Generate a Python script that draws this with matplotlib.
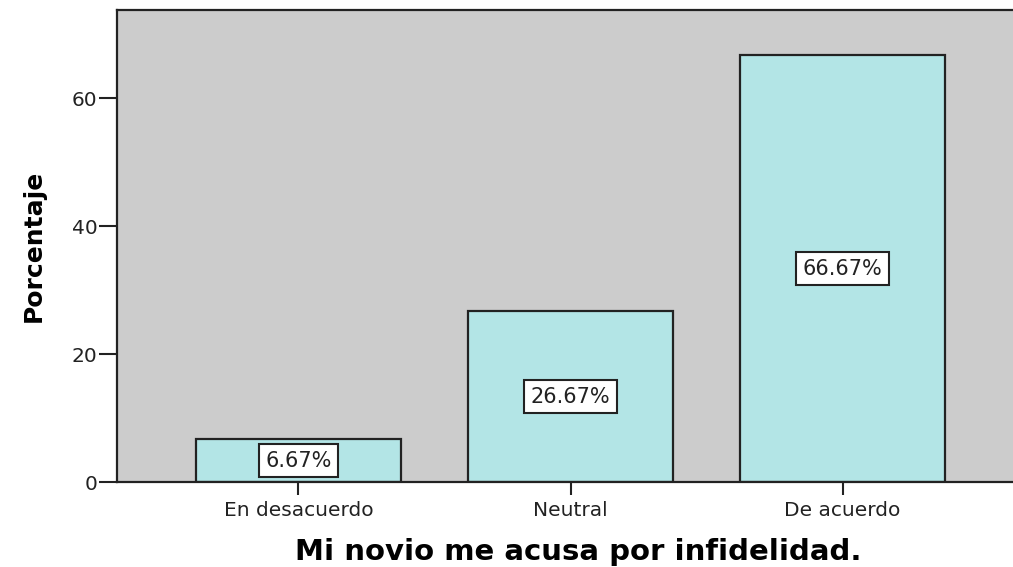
import matplotlib
matplotlib.use("Agg")
import matplotlib.pyplot as plt

# datos
categorias = ["En desacuerdo", "Neutral", "De acuerdo"]
porcentajes = [6.67, 26.67, 66.67]
etiquetas = ["6.67%", "26.67%", "66.67%"]
yticks = [0, 20, 40, 60]

plt.rcParams["font.family"] = ["DejaVu Sans"]

fig = plt.figure(figsize=(10.13, 5.67), dpi=100)
# el área del gráfico se sale un poco por la derecha, como en la captura
ax = fig.add_axes([117 / 1013, 1 - 482 / 567, (1024 - 117) / 1013, (482 - 10) / 567])
ax.set_facecolor("#cccccc")

x = list(range(len(categorias)))
ax.bar(x, porcentajes, width=0.754, color="#b3e5e6", edgecolor="#222222", linewidth=1.6, zorder=2)

for xi, v, lab in zip(x, porcentajes, etiquetas):
    ax.text(xi, v / 2, lab, ha="center", va="center", fontsize=15, color="#222222", zorder=3,
            bbox=dict(boxstyle="square,pad=0.3", fc="white", ec="#222222", lw=1.5))

ax.set_xlim(-0.667, 2.667)
ax.set_ylim(0, 73.75)
ax.set_yticks(yticks)
ax.set_xticks(x)
ax.set_xticklabels(categorias)
ax.tick_params(axis="both", labelsize=14.5, width=1.5, color="#222222", labelcolor="#222222")
ax.tick_params(axis="y", length=13, pad=1)
ax.tick_params(axis="x", length=9, pad=5)

for s in ["left", "bottom", "top"]:
    ax.spines[s].set_linewidth(1.6)
    ax.spines[s].set_color("#222222")
ax.spines["right"].set_visible(False)

ax.set_ylabel("Porcentaje", fontsize=18, fontweight="bold")
ax.yaxis.set_label_coords(-0.079, 0.5)
ax.set_xlabel("Mi novio me acusa por infidelidad.", fontsize=21, fontweight="bold")
ax.xaxis.set_label_coords(0.509, -0.118)

fig.savefig("out.png", dpi=100)
